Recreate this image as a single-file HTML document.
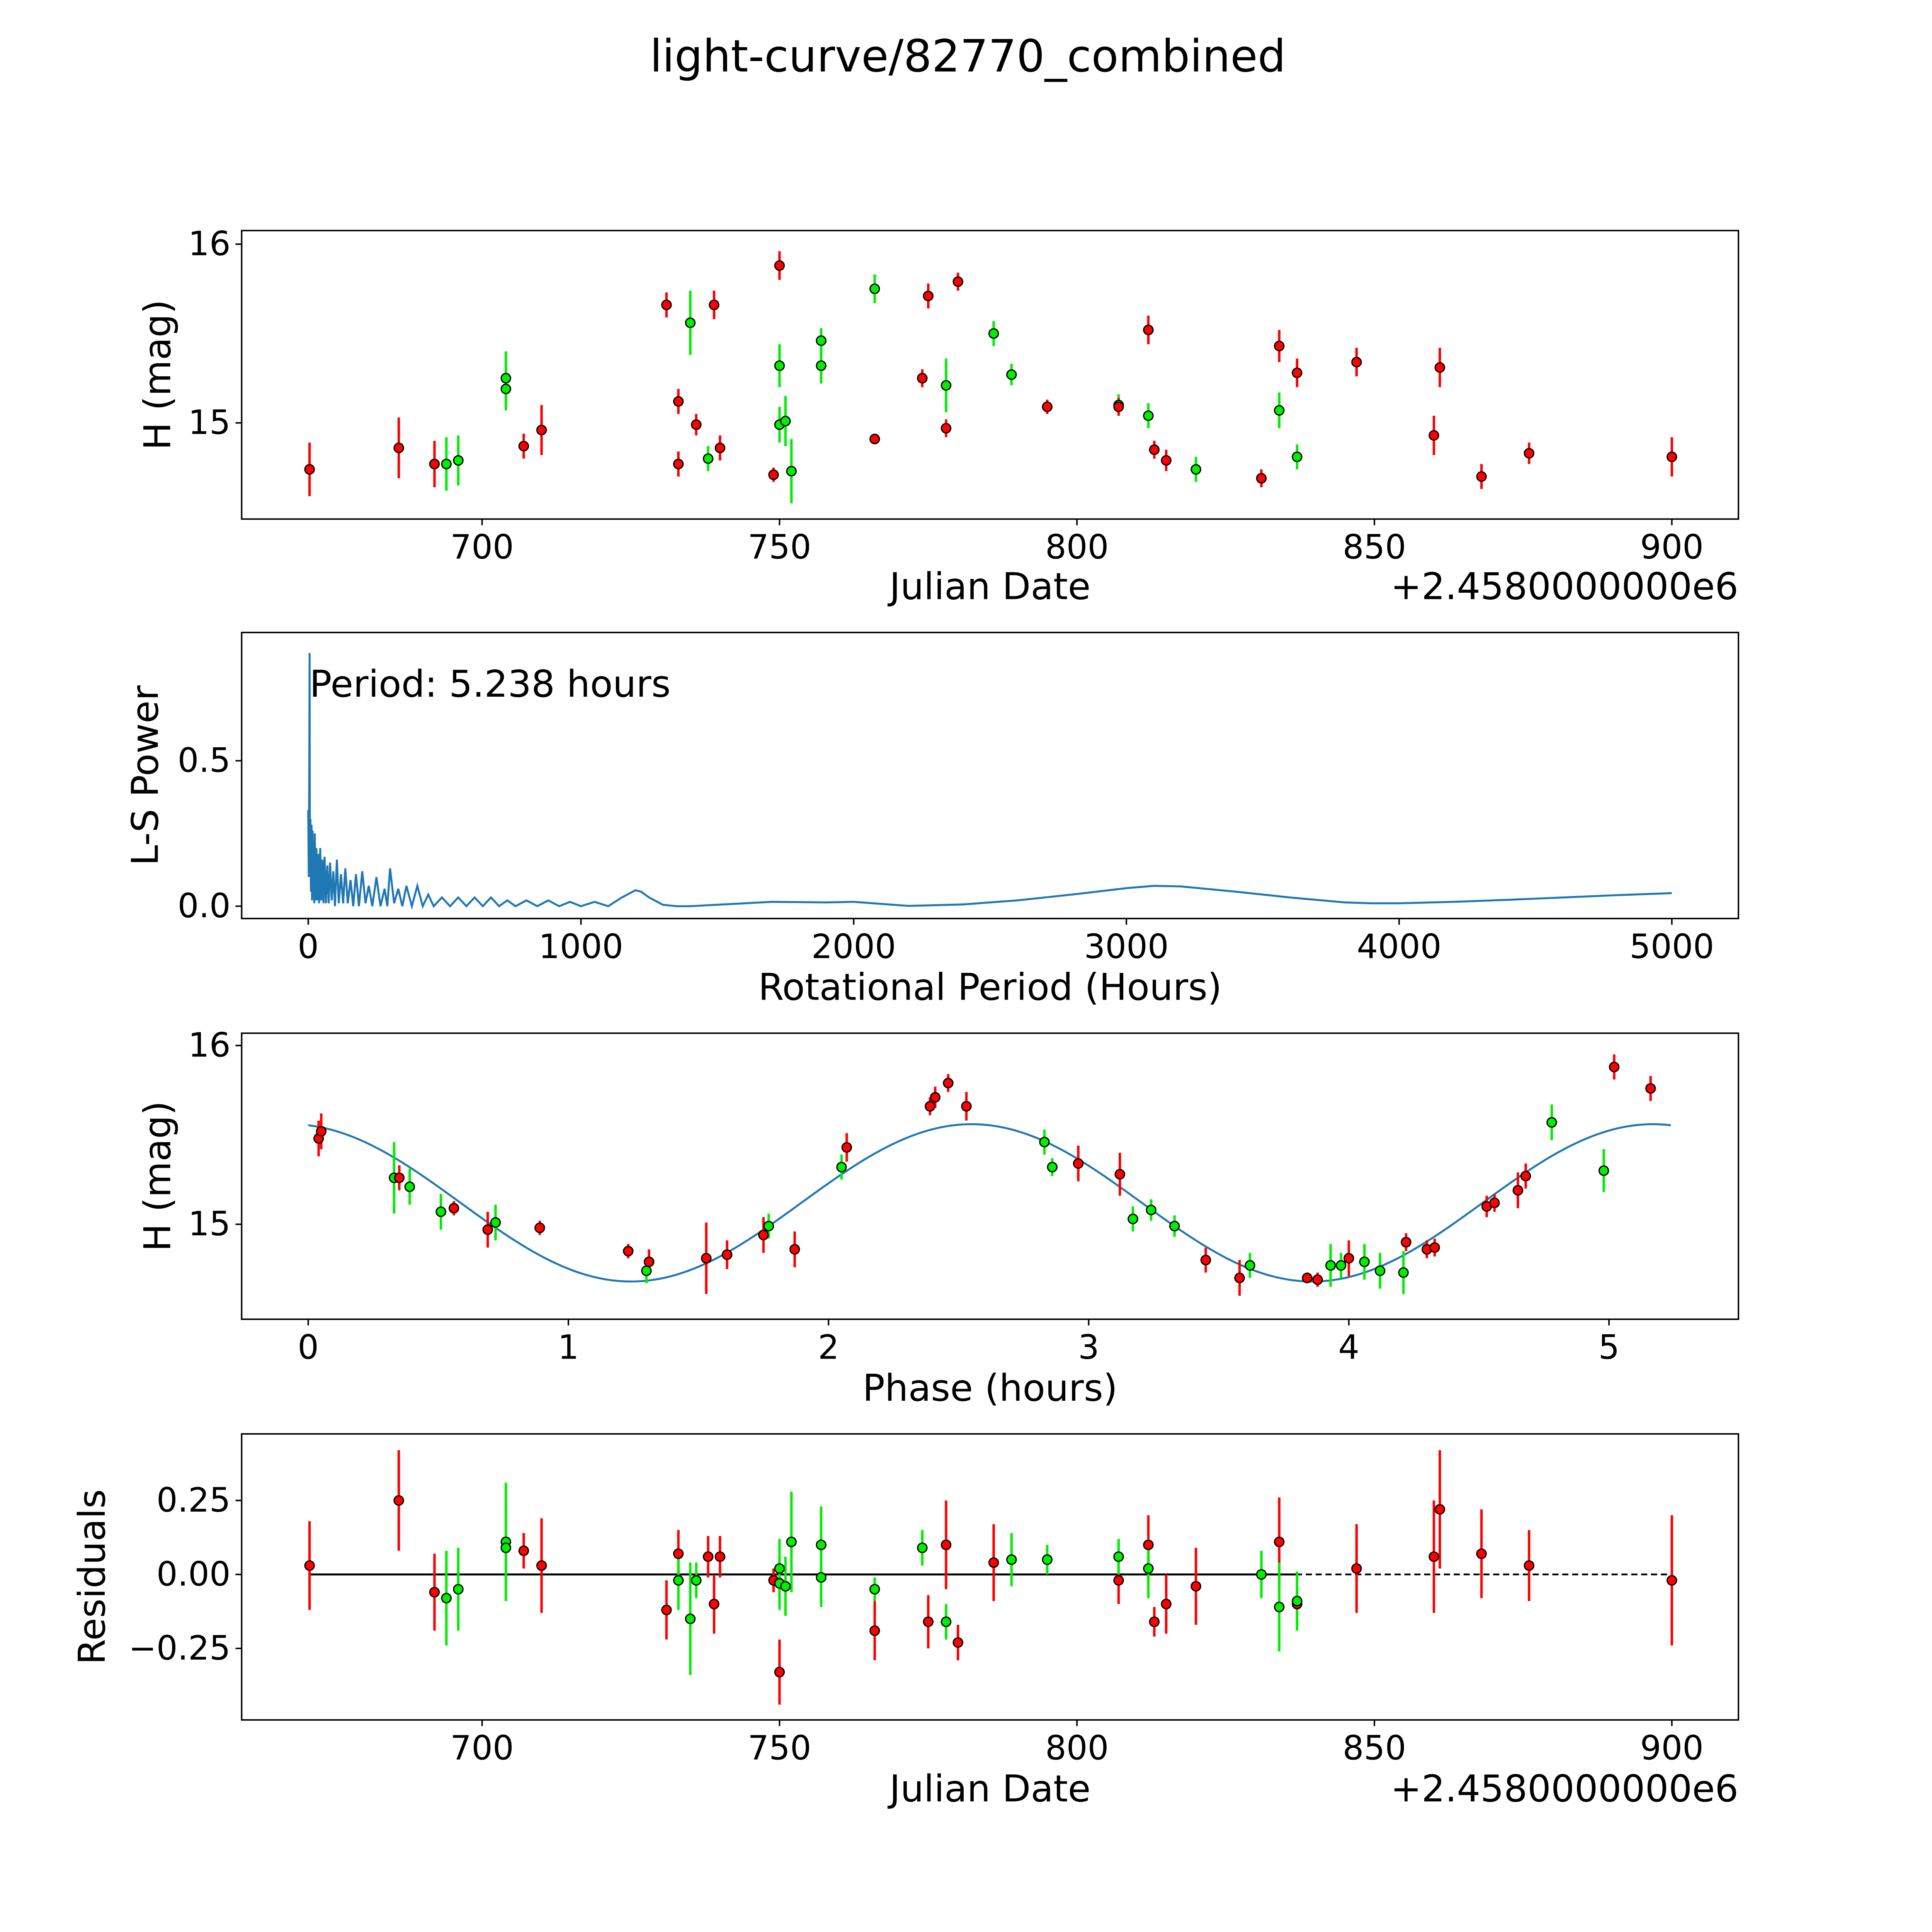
<!DOCTYPE html>
<html><head><meta charset="utf-8"><style>
html,body{margin:0;padding:0;background:#fff;overflow:hidden;width:100vw;height:100vh}
svg{display:block;width:100vw;height:100vh}
text{font-family:"DejaVu Sans","Liberation Sans",sans-serif;fill:#000}
</style></head><body>
<svg id="fig" viewBox="0 0 1567 1567" preserveAspectRatio="none" xmlns="http://www.w3.org/2000/svg">
<rect x="0" y="0" width="1567" height="1567" fill="#fff"/>
<text x="785" y="58" font-size="36" text-anchor="middle">light-curve/82770_combined</text>
<g id="g1"></g>
<g id="g2"></g>
<g id="g3"></g>
<g id="g4"></g>
</svg>
<script>
// ---- Light curve data ----
const jd = [671,686,692,694,696,704,704,707,710,731,733,733,735,736,738,739,740,749,750,750,750,751,752,757,757,766,766,774,775,778,778,780,786,789,795,807,807,812,812,813,815,820,831,834,834,837,837,847,860,861,868,876,900];
const mag = [14.74,14.86,14.77,14.77,14.79,15.25,15.19,14.87,14.96,15.66,15.12,14.77,15.56,14.99,14.80,15.66,14.86,14.71,15.88,15.32,14.99,15.01,14.73,15.46,15.32,15.75,14.91,15.25,15.71,15.21,14.97,15.79,15.50,15.27,15.09,15.10,15.09,15.04,15.52,14.85,14.79,14.74,14.69,15.07,15.43,14.81,15.28,15.34,14.93,15.31,14.70,14.83,14.81];
const magErr = [.15,.17,.13,.15,.14,.15,.12,.07,.14,.07,.07,.07,.18,.06,.07,.08,.07,.04,.08,.12,.10,.14,.18,.07,.10,.08,.03,.05,.07,.15,.05,.05,.07,.06,.04,.06,.05,.07,.08,.05,.06,.07,.05,.10,.09,.07,.08,.08,.11,.11,.07,.06,.11];
const band = "rrrggggrrrrrgrgrrrrgggggggrrrgrrggrgrgrrrgrgrgrrrrrrr";
// ---- Residuals ----
const resJd = [671,686,692,694,696,704,704,707,710,731,733,733,735,736,738,739,740,749,750,750,750,751,752,757,757,766,766,774,775,778,778,780,786,789,795,807,807,812,812,813,815,820,831,834,834,837,837,847,860,861,868,876,900];
const resVal = [.03,.25,-.06,-.08,-.05,.11,.09,.08,.03,-.12,.07,-.02,-.15,-.02,.06,-.10,.06,-.02,-.33,.02,-.03,-.04,.11,.10,-.01,-.05,-.19,.09,-.16,.10,-.16,-.23,.04,.05,.05,-.02,.06,.10,.02,-.16,-.10,-.04,0,.11,-.11,-.10,-.09,.02,.06,.22,.07,.03,-.02];
const resErr = [.15,.17,.13,.16,.14,.2,.14,.06,.16,.1,.08,.1,.19,.06,.07,.1,.07,.04,.11,.1,.09,.1,.17,.13,.1,.04,.1,.06,.09,.15,.06,.06,.13,.09,.05,.08,.06,.1,.1,.05,.1,.13,.08,.15,.15,.07,.1,.15,.19,.2,.15,.12,.22];
const resBand = "rrrggggrrrrgggrrrrrgggggggrgrrgrrggrgrgrrrgrgrgrrrrrr";
// ---- Phase-folded ----
const phase = [0.04,0.05,0.33,0.35,0.39,0.51,0.56,0.69,0.72,0.89,1.23,1.30,1.31,1.53,1.61,1.75,1.77,1.87,2.05,2.07,2.39,2.41,2.46,2.53,2.83,2.86,2.96,3.12,3.17,3.24,3.33,3.45,3.62,3.58,3.84,3.88,3.93,3.97,4.00,4.06,4.12,4.21,4.22,4.30,4.33,4.53,4.56,4.65,4.68,4.78,4.98,5.02,5.16];
const phaseMag = [15.48,15.52,15.26,15.26,15.21,15.07,15.09,14.97,15.01,14.98,14.85,14.74,14.79,14.81,14.83,14.94,14.99,14.86,15.32,15.43,15.66,15.71,15.79,15.66,15.46,15.32,15.34,15.28,15.03,15.08,14.99,14.80,14.77,14.70,14.70,14.69,14.77,14.77,14.81,14.79,14.74,14.73,14.90,14.86,14.87,15.10,15.12,15.19,15.27,15.57,15.30,15.88,15.76];
const phaseErr = [.1,.1,.2,.07,.1,.1,.04,.1,.1,.04,.04,.07,.07,.2,.08,.1,.07,.1,.07,.08,.05,.06,.05,.08,.07,.05,.1,.12,.07,.06,.06,.07,.07,.1,.03,.04,.12,.07,.1,.1,.1,.12,.05,.05,.05,.06,.05,.1,.07,.1,.12,.07,.07];
const phaseBand = "rrgrggrrgrrgrrrrgrgrrrrrggrrgggrgrrrggrgggrrrrrrrggrrg";
// model fit parameters (mean, amplitude, half-period, peak phase, end)
const modelParams = [15.12, 0.44, 2.619, 2.55, 5.238];
// ---- Periodogram ----
const lsPeriod = [0,2,4,5,6,8,10,12,14,16,18,20,22,24,27,30,33,36,40,44,48,52,56,60,65,70,75,80,86,92,98,105,112,120,128,136,145,155,165,175,186,198,210,222,235,250,265,280,290,300,315,330,345,360,380,400,420,440,460,490,520,550,580,610,640,670,700,730,760,800,840,880,920,960,1000,1050,1100,1150,1200,1220,1250,1300,1350,1400,1500,1600,1700,1800,1900,2000,2100,2200,2400,2600,2800,3000,3100,3200,3400,3600,3800,3900,4000,4200,4400,4600,4800,5000];
const lsPower = [0.33,0.1,0.5,0.87,0.2,0.3,0.05,0.28,0.02,0.26,0.03,0.22,0.01,0.25,0.02,0.2,0.02,0.18,0.01,0.2,0.02,0.16,0.01,0.17,0.01,0.14,0.01,0.15,0.02,0.12,0.0,0.16,0.01,0.11,0.01,0.13,0.01,0.09,0.0,0.11,0.0,0.12,0.01,0.07,0.0,0.1,0.0,0.06,0.0,0.13,0.01,0.06,0.0,0.07,0.0,0.07,0.0,0.04,0.0,0.03,0.0,0.03,0.0,0.03,0.0,0.03,0.0,0.02,0.0,0.02,0.0,0.02,0.0,0.015,0.0,0.015,0.0,0.03,0.055,0.05,0.03,0.005,0.0,0.0,0.005,0.01,0.015,0.014,0.013,0.015,0.008,0.001,0.006,0.02,0.04,0.062,0.07,0.068,0.05,0.03,0.013,0.01,0.01,0.015,0.022,0.03,0.038,0.045];

const NS="http://www.w3.org/2000/svg";
function mk(parent,tag,attrs,name,txt){const e=document.createElementNS(NS,tag);for(const k in attrs)e.setAttribute(k,attrs[k]);


if(txt!==undefined)e.textContent=txt;parent.appendChild(e);return e;}
function lin(d0,d1,p0,p1){return v=>p0+(v-d0)*(p1-p0)/(d1-d0);}
const FS=27, LS=30;
function axes(g,box,xs,xticks,ys,yticks,xlabel,xly,ylabel,ylx){
  mk(g,'rect',{x:box[0],y:box[1],width:box[2]-box[0],height:box[3]-box[1],fill:'none',stroke:'#000','stroke-width':1.2},'plot-frame');
  xticks.forEach(t=>{const x=xs(t);mk(g,'line',{x1:x,x2:x,y1:box[3],y2:box[3]+5,stroke:'#000','stroke-width':1.2},'x-tick');
    mk(g,'text',{x:x,y:box[3]+32,'font-size':FS,'text-anchor':'middle'},'x-tick-label',String(t));});
  yticks.forEach(t=>{const y=ys(t[0]);mk(g,'line',{x1:box[0]-5,x2:box[0],y1:y,y2:y,stroke:'#000','stroke-width':1.2},'y-tick');
    mk(g,'text',{x:box[0]-9,y:y+9,'font-size':FS,'text-anchor':'end'},'y-tick-label',t[1]);});
  mk(g,'text',{x:(box[0]+box[2])/2,y:xly,'font-size':LS,'text-anchor':'middle'},'x-axis-title',xlabel);
  const yc=(box[1]+box[3])/2;
  mk(g,'text',{x:ylx,y:yc,'font-size':LS,'text-anchor':'middle',transform:`rotate(-90 ${ylx} ${yc})`},'y-axis-title',ylabel);
}
function points(g,xs,ys,X,Y,E,B){
  for(let i=0;i<X.length;i++){const c=B[i]==='g'?'#00ee00':'#ff0000';const x=xs(X[i]);
    mk(g,'line',{x1:x,x2:x,y1:ys(Y[i]-E[i]),y2:ys(Y[i]+E[i]),stroke:c,'stroke-width':2},'error-bar');}
  for(let i=0;i<X.length;i++){const c=B[i]==='g'?'#00ee00':'#ff0000';
    mk(g,'circle',{cx:xs(X[i]),cy:ys(Y[i]),r:3.8,fill:c,stroke:'#000','stroke-width':1},'data-point');}
}
// Panel 1
const g1=document.getElementById('g1');
const b1=[196,187,1410,421];const x1=lin(700,900,391,1356),y1=lin(15,16,343,198);
axes(g1,b1,x1,[700,750,800,850,900],y1,[[15,'15'],[16,'16']],'Julian Date',486,'H (mag)',138);
mk(g1,'text',{x:1410,y:486,'font-size':LS,'text-anchor':'end'},'x-offset-label','+2.4580000000e6');
points(g1,x1,y1,jd,mag,magErr,band);
// Panel 2
const g2=document.getElementById('g2');
const b2=[196,513,1410,745];const x2=lin(0,5000,250,1356),y2=lin(0,0.5,735,617);
axes(g2,b2,x2,[0,1000,2000,3000,4000,5000],y2,[[0,'0.0'],[0.5,'0.5']],'Rotational Period (Hours)',811,'L-S Power',128);
let pd='';lsPeriod.forEach((p,i)=>{pd+=(i?'L':'M')+x2(p).toFixed(2)+','+y2(lsPower[i]).toFixed(2);});
mk(g2,'path',{d:pd,fill:'none',stroke:'#1f77b4','stroke-width':1.6},'periodogram-line');
mk(g2,'text',{x:251,y:565,'font-size':LS},'period-annotation','Period: 5.238 hours');
// Panel 3
const g3=document.getElementById('g3');
const b3=[196,838,1410,1070];const x3=lin(0,5,250,1305),y3=lin(15,16,993,848);
axes(g3,b3,x3,[0,1,2,3,4,5],y3,[[15,'15'],[16,'16']],'Phase (hours)',1136,'H (mag)',138);
let md='';for(let k=0;k<=300;k++){const t=modelParams[4]*k/300;const v=modelParams[0]+modelParams[1]*Math.cos(2*Math.PI*(t-modelParams[3])/modelParams[2]);md+=(k?'L':'M')+x3(t).toFixed(2)+','+y3(v).toFixed(2);}
mk(g3,'path',{d:md,fill:'none',stroke:'#1f77b4','stroke-width':1.6},'model-curve');
points(g3,x3,y3,phase,phaseMag,phaseErr,phaseBand);
// Panel 4
const g4=document.getElementById('g4');
const b4=[196,1163,1410,1395];const x4=lin(700,900,391,1356),y4=lin(0,0.25,1277,1217);
axes(g4,b4,x4,[700,750,800,850,900],y4,[[0.25,'0.25'],[0,'0.00'],[-0.25,'\u22120.25']],'Julian Date',1461,'Residuals',85);
mk(g4,'text',{x:1410,y:1461,'font-size':LS,'text-anchor':'end'},'x-offset-label','+2.4580000000e6');
mk(g4,'line',{x1:x4(671),x2:x4(900),y1:y4(0),y2:y4(0),stroke:'#000','stroke-width':1.4,'stroke-dasharray':'5,3'},'zero-line-dashed');
mk(g4,'line',{x1:x4(671),x2:x4(837),y1:y4(0),y2:y4(0),stroke:'#000','stroke-width':1.6},'zero-line');
points(g4,x4,y4,resJd,resVal,resErr,resBand);
</script>
</body></html>
